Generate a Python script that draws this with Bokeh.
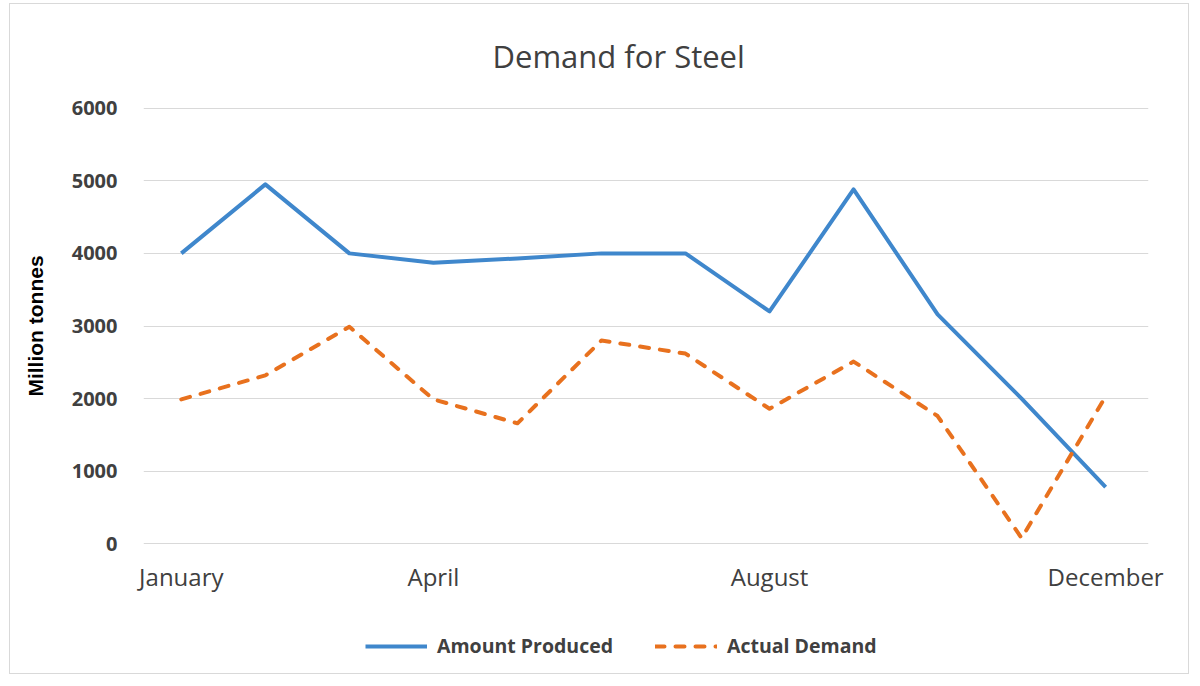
from bokeh.plotting import figure
from bokeh.models import Range1d, FixedTicker, Legend, LegendItem
from bokeh.layouts import column
from bokeh.embed import file_html
from bokeh.resources import INLINE

months = ["January", "February", "March", "April", "May", "June", "July",
          "August", "September", "October", "November", "December"]
produced = [4000, 4950, 4000, 3870, 3930, 4000, 4000, 3200, 4880, 3160, 2000, 780]
demand = [1990, 2320, 2990, 1990, 1660, 2800, 2620, 1860, 2510, 1760, 80, 2030]
shown_months = ["January", "April", "August", "December"]
y_ticks = [0, 1000, 2000, 3000, 4000, 5000, 6000]
series_names = ["Amount Produced", "Actual Demand"]

x = list(range(len(months)))

text_font = "Open Sans"
grey = "#404040"
blue = "#3F87CC"
orange = "#E8711E"

W = 1178
p = figure(width=W, height=607, output_backend="svg", toolbar_location=None,
           x_range=Range1d(-0.45, 11.51), y_range=Range1d(-50, 6050),
           min_border_left=133, min_border_right=40, min_border_top=99,
           min_border_bottom=64, title="Demand for Steel")
p.outline_line_color = None
p.background_fill_color = "white"
p.border_fill_color = "white"

p.title.align = "left"
p.title.offset = 349
p.title.standoff = 56
p.title.text_font = text_font
p.title.text_font_size = "31px"
p.title.text_font_style = "normal"
p.title.text_color = grey

# axes
p.xgrid.grid_line_color = None
p.ygrid.grid_line_color = "#d9d9d9"
p.ygrid.grid_line_width = 1
p.yaxis.ticker = FixedTicker(ticks=y_ticks)
p.xaxis.ticker = FixedTicker(ticks=[months.index(m) for m in shown_months])
p.xaxis.major_label_overrides = {months.index(m): m for m in shown_months}
for ax in (p.xaxis, p.yaxis):
    ax.axis_line_color = None
    ax.major_tick_line_color = None
    ax.minor_tick_line_color = None
    ax.major_tick_out = 0
    ax.minor_tick_out = 0
    ax.major_label_text_font = text_font
    ax.major_label_text_color = grey
p.yaxis.major_label_text_font_size = "20px"
p.yaxis.major_label_text_font_style = "bold"
p.xaxis.major_label_text_font_size = "24px"
p.yaxis.major_label_standoff = 26
p.xaxis.major_label_standoff = 12
p.yaxis.axis_label = "Million tonnes"
p.yaxis.axis_label_text_font = "Liberation Sans"
p.yaxis.axis_label_text_font_style = "bold"
p.yaxis.axis_label_text_font_size = "21px"
p.yaxis.axis_label_text_color = "black"
p.yaxis.axis_label_standoff = 22

p.line(x, produced, line_color=blue, line_width=4, line_join="round")
p.line(x, demand, line_color=orange, line_width=4, line_dash="9 11",
       line_cap="round", line_join="round")

# legend strip below the chart
pl = figure(width=W, height=62, output_backend="svg", toolbar_location=None,
            x_axis_type=None, y_axis_type=None, min_border=0,
            x_range=Range1d(0, 1), y_range=Range1d(0, 1))
pl.outline_line_color = None
pl.xgrid.grid_line_color = None
pl.ygrid.grid_line_color = None
pl.background_fill_color = "white"
pl.border_fill_color = "white"
l1 = pl.line(x, produced, line_color=blue, line_width=4, visible=False)
l2 = pl.line(x, demand, line_color=orange, line_width=4, line_dash="9 11",
             line_cap="round", visible=False)

legend = Legend(items=[LegendItem(label=series_names[0], renderers=[l1]),
                       LegendItem(label=series_names[1], renderers=[l2])],
                orientation="horizontal", location=(222, 14))
legend.label_text_font = text_font
legend.label_text_font_size = "19.5px"
legend.label_text_font_style = "bold"
legend.label_text_color = grey
legend.glyph_width = 62
legend.glyph_height = 20
legend.label_standoff = 10
legend.spacing = 42
legend.padding = 0
legend.margin = 0
legend.border_line_color = None
legend.background_fill_alpha = 0
legend.inactive_fill_alpha = 0
pl.add_layout(legend)

layout = column(p, pl, spacing=0)
layout.margin = (3, 0, 0, 9)
layout.styles = {"border": "1px solid #d9d9d9"}

open("out.html", "w").write(file_html(layout, INLINE))
